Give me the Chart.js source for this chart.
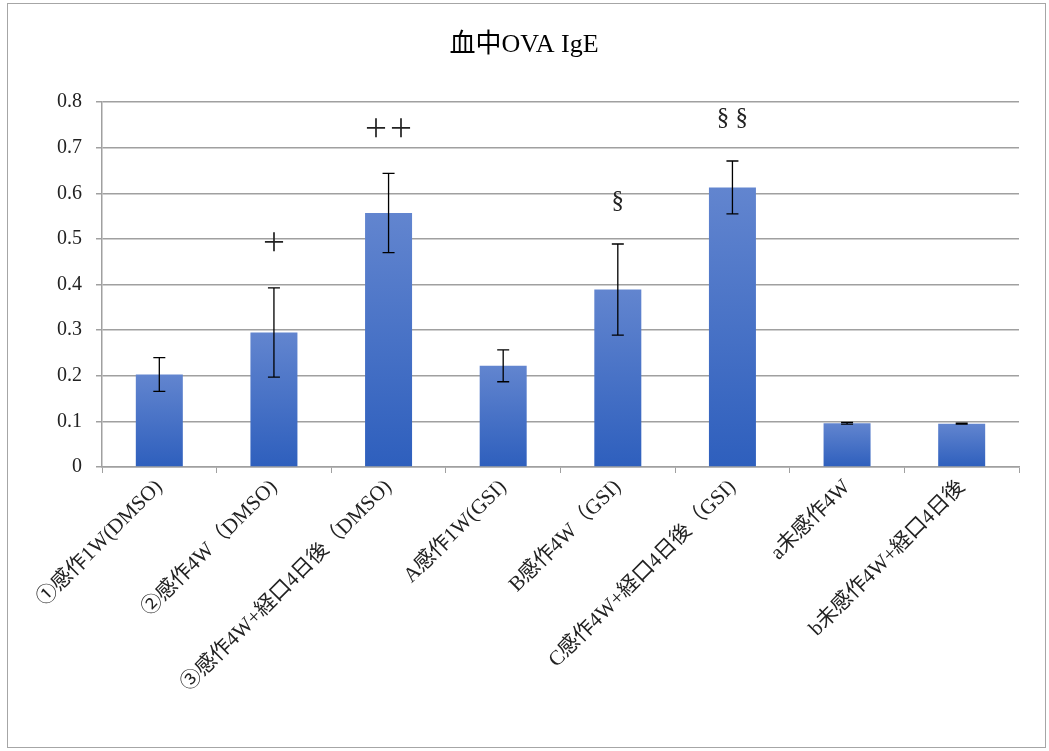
<!DOCTYPE html>
<html>
<head>
<meta charset="utf-8">
<script src="https://cdn.jsdelivr.net/npm/chart.js@4/dist/chart.umd.min.js"></script>
<style>
  body { margin: 0; background: #fff; }
  #wrap { position: relative; width: 1049px; height: 751px; }
  #frame { position: absolute; left: 7px; top: 3px; width: 1039px; height: 745px; border: 1.5px solid #a6a6a6; box-sizing: border-box; }
  canvas { position: absolute; left: 0; top: 0; }
</style>
</head>
<body>
<div id="wrap">
  <div id="frame"></div>
  <canvas id="igeChart" width="1049" height="751"></canvas>
</div>
<script>
// data
const labels = [
  '①感作1W(DMSO)',
  '②感作4W（DMSO)',
  '③感作4W+経口4日後（DMSO)',
  'A感作1W(GSI)',
  'B感作4W（GSI)',
  'C感作4W+経口4日後（GSI)',
  'a未感作4W',
  'b未感作4W+経口4日後'
];
const means = [0.203, 0.295, 0.557, 0.222, 0.389, 0.613, 0.096, 0.095];
const errors = [0.037, 0.098, 0.087, 0.035, 0.100, 0.058, 0.002, 0.001];
const marks = ['', '＋', '＋＋', '', '§', '§ §', '', ''];
const yTicks = [0, 0.1, 0.2, 0.3, 0.4, 0.5, 0.6, 0.7, 0.8];

const serif = '"Liberation Serif", "DejaVu Serif", "Noto Sans CJK JP", serif';

// error bars + significance marks
const errorBarPlugin = {
  id: 'errorBars',
  afterDatasetsDraw(chart) {
    const ctx = chart.ctx;
    const y = chart.scales.y;
    const meta = chart.getDatasetMeta(0);
    ctx.save();
    meta.data.forEach((bar, i) => {
      const x = bar.x;
      const top = y.getPixelForValue(means[i] + errors[i]);
      const bot = y.getPixelForValue(means[i] - errors[i]);
      ctx.strokeStyle = '#000';
      ctx.lineWidth = 1.3;
      ctx.beginPath();
      ctx.moveTo(x, top); ctx.lineTo(x, bot);
      ctx.moveTo(x - 6, top); ctx.lineTo(x + 6, top);
      ctx.moveTo(x - 6, bot); ctx.lineTo(x + 6, bot);
      ctx.stroke();
      if (marks[i]) {
        ctx.fillStyle = '#222';
        ctx.font = '25px ' + serif;
        ctx.textAlign = 'center';
        ctx.textBaseline = 'middle';
        ctx.fillText(marks[i], x, top - 43);
      }
    });
    ctx.restore();
  }
};

const ctx = document.getElementById('igeChart').getContext('2d');
new Chart(ctx, {
  type: 'bar',
  data: {
    labels: labels,
    datasets: [{
      data: means,
      backgroundColor: (c) => {
        const chart = c.chart;
        const y = chart.scales.y;
        if (!y || c.dataIndex === undefined || !chart.chartArea) return '#4a75c8';
        const t = y.getPixelForValue(means[c.dataIndex]);
        const b = y.getPixelForValue(0);
        if (!isFinite(t) || !isFinite(b) || t === b) return '#4a75c8';
        const g = chart.ctx.createLinearGradient(0, t, 0, b);
        g.addColorStop(0, '#6285cf');
        g.addColorStop(1, '#2e5fbd');
        return g;
      },
      borderWidth: 0,
      categoryPercentage: 1,
      barPercentage: 0.41
    }]
  },
  options: {
    responsive: false,
    animation: false,
    layout: { padding: { left: 29, right: 30, top: 0, bottom: 10 } },
    plugins: {
      legend: { display: false },
      tooltip: { enabled: false },
      title: {
        display: true,
        text: '血中OVA IgE',
        color: '#000',
        font: { family: serif, size: 26, weight: 'normal' },
        padding: { top: 30, bottom: 41 }
      }
    },
    scales: {
      x: {
        grid: { display: true, drawOnChartArea: false, offset: true, color: '#a0a0a0', tickLength: 6 },
        border: { color: '#a0a0a0', width: 1.5 },
        ticks: {
          color: '#222',
          font: { family: serif, size: 21 },
          minRotation: 45,
          maxRotation: 45,
          autoSkip: false,
          padding: 2
        },
        afterFit: (s) => { s.height = 274; }
      },
      y: {
        min: 0,
        max: 0.8,
        afterBuildTicks: (s) => { s.ticks = yTicks.map(v => ({ value: v })); },
        grid: { color: '#a0a0a0', lineWidth: 1.5, tickLength: 6 },
        border: { color: '#a0a0a0', width: 1.5 },
        ticks: {
          color: '#222',
          font: { family: serif, size: 20 },
          padding: 14,
          callback: (v) => (v === 0 ? '0' : v.toFixed(1))
        },
        afterFit: (s) => { s.width = 73; }
      }
    }
  },
  plugins: [errorBarPlugin]
});
</script>
</body>
</html>
